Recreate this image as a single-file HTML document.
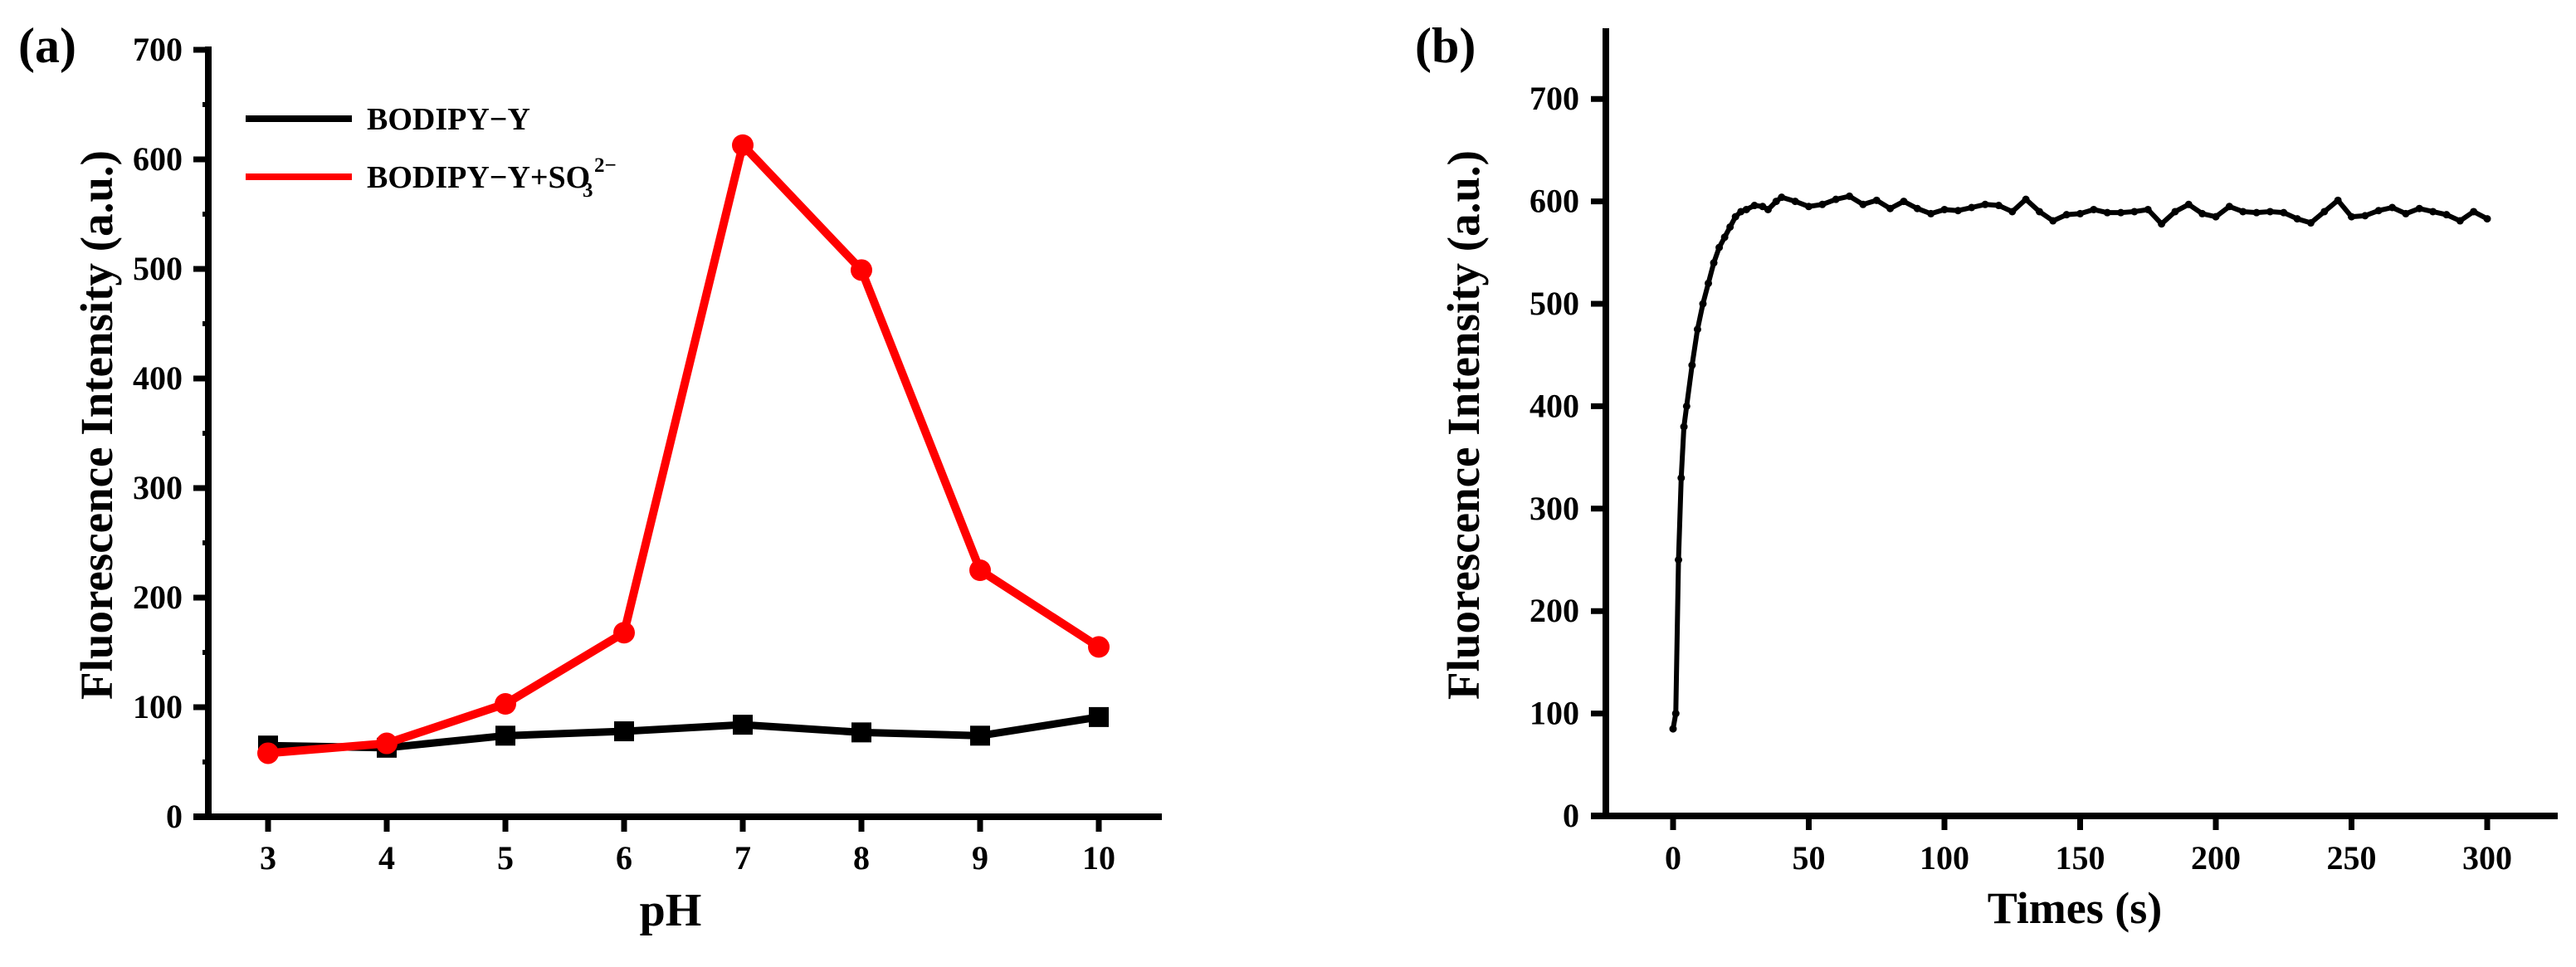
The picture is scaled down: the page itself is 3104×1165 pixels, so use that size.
<!DOCTYPE html>
<html><head><meta charset="utf-8">
<style>
html,body{margin:0;padding:0;background:#fff;}
svg{display:block;}
text{font-family:"Liberation Serif",serif;font-weight:bold;fill:#000;}
</style></head>
<body>
<svg id="fig" width="3104" height="1165" viewBox="0 0 3104 1165" xmlns="http://www.w3.org/2000/svg">
<g id="chartA"></g>
<g id="chartB"></g>
</svg>
<script>
const phCategories = [3,4,5,6,7,8,9,10];
const bodipyValues = [65,63,74,78,84,77,74,91];
const bodipySO3Values = [58,67,103,168,613,499,225,155];
const aYTicks = [0,100,200,300,400,500,600,700];

const timeValues = [0,1,2,3,4,5,7,9,11,13,15,17,19,21,23,25,27,30,33,35,38,40,45,50,55,60,65,70,75,80,85,90,95,100,105,110,115,120,125,130,135,140,145,150,155,160,165,170,175,180,185,190,195,200,205,210,215,220,225,230,235,240,245,250,255,260,265,270,275,280,285,290,295,300];
const intensityValues = [85,100,250,330,380,400,440,475,500,520,540,555,565,575,585,590,592,596,595,592,600,604,600,595,597,602,605,597,601,593,600,593,588,592,591,594,597,596,590,602,590,581,587,588,592,589,589,590,592,578,590,597,588,585,595,590,589,590,589,583,579,590,601,585,586,591,594,588,593,590,587,581,590,583];
const bXTicks = [0,50,100,150,200,250,300];
const bYTicks = [0,100,200,300,400,500,600,700];

const NS='http://www.w3.org/2000/svg';
function mk(parent,tag,attrs,txt){const e=document.createElementNS(NS,tag);for(const k in attrs)e.setAttribute(k,attrs[k]);if(txt!==undefined)e.textContent=txt;parent.appendChild(e);return e;}

// ---------- Chart A ----------
const A=document.getElementById('chartA');
const ax=v=>323+(v-3)*143;
const ay=v=>984-v*1.32;
let e;
e=mk(A,'line',{x1:251,y1:984,x2:251,y2:56,stroke:'#000','stroke-width':8});


e=mk(A,'line',{x1:233,y1:984,x2:1400,y2:984,stroke:'#000','stroke-width':8});


aYTicks.forEach(v=>{
  mk(A,'line',{x1:233,y1:ay(v),x2:251,y2:ay(v),stroke:'#000','stroke-width':7});
  if(v<700) mk(A,'line',{x1:244,y1:ay(v+50),x2:251,y2:ay(v+50),stroke:'#000','stroke-width':6});
  e=mk(A,'text',{x:220,y:ay(v)+13,'font-size':40,'text-anchor':'end'},v);
  
  
});
phCategories.forEach(v=>{
  mk(A,'line',{x1:ax(v),y1:984,x2:ax(v),y2:1002,stroke:'#000','stroke-width':7});
  e=mk(A,'text',{x:ax(v),y:1047,'font-size':40,'text-anchor':'middle'},v);
  
  
});
e=mk(A,'text',{x:0,y:0,'font-size':55,'text-anchor':'middle',transform:'translate(135,512) rotate(-90)'},'Fluorescence Intensity (a.u.)');


e=mk(A,'text',{x:808,y:1115,'font-size':56,'text-anchor':'middle'},'pH');


e=mk(A,'text',{x:22,y:75,'font-size':60},'(a)');


e=mk(A,'polyline',{points:phCategories.map((c,i)=>ax(c)+','+ay(bodipyValues[i])).join(' '),fill:'none',stroke:'#000','stroke-width':9});


phCategories.forEach((c,i)=>{
  e=mk(A,'rect',{x:ax(c)-12,y:ay(bodipyValues[i])-12,width:24,height:24,fill:'#000'});
  
  
});
e=mk(A,'polyline',{points:phCategories.map((c,i)=>ax(c)+','+ay(bodipySO3Values[i])).join(' '),fill:'none',stroke:'#ff0000','stroke-width':10,'stroke-linejoin':'round'});


phCategories.forEach((c,i)=>{
  e=mk(A,'circle',{cx:ax(c),cy:ay(bodipySO3Values[i]),r:13,fill:'#ff0000'});
  
  
});
e=mk(A,'line',{x1:296,y1:143,x2:424,y2:143,stroke:'#000','stroke-width':8});


e=mk(A,'text',{x:442,y:156,'font-size':38},'BODIPY\u2212Y');


e=mk(A,'line',{x1:296,y1:213,x2:424,y2:213,stroke:'#ff0000','stroke-width':8});


e=mk(A,'text',{x:442,y:226,'font-size':38},'BODIPY\u2212Y+SO');


mk(A,'text',{x:702,y:237,'font-size':25},'3');
mk(A,'text',{x:716,y:207,'font-size':25},'2\u2212');

// ---------- Chart B ----------
const B=document.getElementById('chartB');
const bx=v=>2016+v*(981/300);
const by=v=>983-v*1.234;
e=mk(B,'line',{x1:1935,y1:983,x2:1935,y2:34,stroke:'#000','stroke-width':8});


e=mk(B,'line',{x1:1917,y1:983,x2:3082,y2:983,stroke:'#000','stroke-width':8});


bYTicks.forEach(v=>{
  mk(B,'line',{x1:1917,y1:by(v),x2:1935,y2:by(v),stroke:'#000','stroke-width':7});
  e=mk(B,'text',{x:1903,y:by(v)+13,'font-size':40,'text-anchor':'end'},v);
  
  
});
bXTicks.forEach(v=>{
  mk(B,'line',{x1:bx(v),y1:983,x2:bx(v),y2:1000,stroke:'#000','stroke-width':7});
  e=mk(B,'text',{x:bx(v),y:1047,'font-size':40,'text-anchor':'middle'},v);
  
  
});
e=mk(B,'text',{x:0,y:0,'font-size':55,'text-anchor':'middle',transform:'translate(1782,512) rotate(-90)'},'Fluorescence Intensity (a.u.)');


e=mk(B,'text',{x:2500,y:1112,'font-size':54,'text-anchor':'middle'},'Times (s)');


e=mk(B,'text',{x:1705,y:75,'font-size':60},'(b)');


e=mk(B,'polyline',{points:timeValues.map((t,i)=>bx(t)+','+by(intensityValues[i])).join(' '),fill:'none',stroke:'#000','stroke-width':6,'stroke-linejoin':'round'});


timeValues.forEach((t,i)=>{
  e=mk(B,'circle',{cx:bx(t),cy:by(intensityValues[i]),r:4.5,fill:'#000'});
  
  
});
</script>
</body></html>
